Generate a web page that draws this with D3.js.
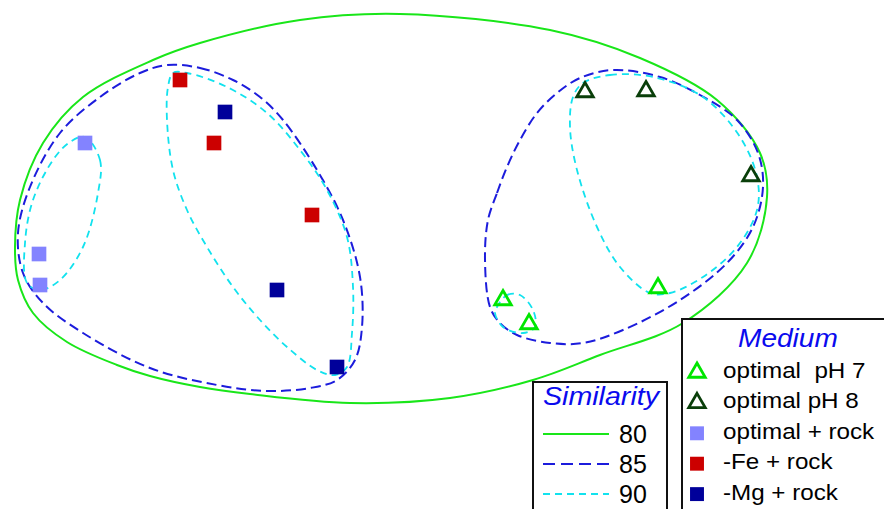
<!DOCTYPE html>
<html>
<head>
<meta charset="utf-8">
<script src="https://cdn.jsdelivr.net/npm/d3@7/dist/d3.min.js"></script>
<style>
  html, body { margin: 0; padding: 0; background: #fff; }
  svg { display: block; }
  text { font-family: "Liberation Sans", Arial, sans-serif; }
</style>
</head>
<body>
<svg id="chart" width="884" height="509"></svg>
<script>
// NMDS ordination scores (axis 1, axis 2) of each sample, grouped by medium
const groups = ["optimal  pH 7", "optimal pH 8", "optimal + rock", "-Fe + rock", "-Mg + rock"];
const optimalPH7 = [[1.09, -0.165], [0.315, -0.225], [0.445, -0.345]];
const optimalPH8 = [[0.725, 0.815], [1.03, 0.82], [1.555, 0.395]];
const optimalRock = [[-1.775, 0.56], [-2.005, 0.005], [-2.0, -0.15]];
const feRock = [[-1.30, 0.875], [-1.13, 0.56], [-0.64, 0.20]];
const mgRock = [[-1.075, 0.715], [-0.815, -0.175], [-0.515, -0.56]];

// Cluster outlines at the given Bray-Curtis similarity levels
const similarityLevels = [80, 85, 90];
const contour80 = [
  [-0.2, 1.205], [0.55, 1.125], [1.0, 0.985], [1.385, 0.775], [1.6, 0.51], [1.635, 0.29],
  [1.535, -0.04], [1.215, -0.34], [0.8, -0.5], [0.465, -0.625], [0.05, -0.715], [-0.45, -0.74],
  [-0.95, -0.695], [-1.2, -0.66], [-1.45, -0.605], [-1.615, -0.55], [-1.865, -0.435],
  [-2.035, -0.29], [-2.11, -0.125], [-2.125, 0.04], [-2.1, 0.275],
  [-1.985, 0.56], [-1.785, 0.79], [-1.435, 0.975], [-1.2, 1.06], [-0.7, 1.175]
];
const contour85a = [
  [-1.365, 0.95], [-1.2, 0.935], [-1.035, 0.875], [-0.9, 0.79], [-0.785, 0.675], [-0.615, 0.425],
  [-0.485, 0.175], [-0.4, -0.11], [-0.39, -0.36], [-0.425, -0.525], [-0.515, -0.625], [-0.65, -0.665],
  [-0.865, -0.68], [-1.115, -0.65], [-1.45, -0.565], [-1.785, -0.39], [-1.985, -0.24], [-2.085, -0.09],
  [-2.11, 0.11], [-2.05, 0.34], [-1.9, 0.61], [-1.7, 0.79], [-1.5, 0.91]
];
const contour85b = [
  [0.24, 0.175], [0.285, 0.31], [0.335, 0.44], [0.4, 0.575], [0.485, 0.71], [0.585, 0.81],
  [0.7, 0.885], [0.865, 0.925], [1.1, 0.89], [1.3, 0.8], [1.485, 0.675], [1.59, 0.51],
  [1.615, 0.34], [1.565, 0.14], [1.435, -0.04], [1.2, -0.225], [0.915, -0.375], [0.715, -0.44],
  [0.55, -0.44], [0.385, -0.4], [0.3, -0.34], [0.25, -0.26], [0.225, -0.02]
];
const contour90a = [
  [-1.775, 0.59], [-1.7, 0.475], [-1.71, 0.31], [-1.785, 0.04], [-1.9, -0.125], [-2.0, -0.175],
  [-2.065, -0.14], [-2.075, 0.06], [-2.035, 0.275], [-1.935, 0.475], [-1.85, 0.565]
];
const contour90b = [
  [-1.36, 0.84], [-1.335, 0.91], [-1.265, 0.91], [-1.065, 0.84], [-0.865, 0.71], [-0.7, 0.525],
  [-0.565, 0.325], [-0.465, 0.09], [-0.435, -0.16], [-0.44, -0.39], [-0.465, -0.56], [-0.525, -0.6],
  [-0.615, -0.575], [-0.765, -0.46], [-0.9, -0.325], [-1.035, -0.16], [-1.165, 0.04], [-1.265, 0.225],
  [-1.335, 0.425], [-1.365, 0.675]
];
const contour90c = [
  [0.285, -0.26], [0.335, -0.2], [0.4, -0.2], [0.465, -0.275], [0.475, -0.36], [0.415, -0.39],
  [0.315, -0.36], [0.275, -0.29]
];
const contour90d = [
  [0.715, 0.86], [0.85, 0.9], [1.065, 0.89], [1.315, 0.79], [1.5, 0.59], [1.585, 0.39],
  [1.585, 0.225], [1.485, 0.04], [1.315, -0.11], [1.15, -0.19], [1.05, -0.19], [0.9, -0.06],
  [0.785, 0.14], [0.685, 0.425], [0.65, 0.64], [0.665, 0.79]
];

const W = 884, H = 509;
const svg = d3.select("#chart");

const x = d3.scaleLinear().domain([-2.2, 2.22]).range([0, W]);
const y = d3.scaleLinear().domain([1.275, -1.27]).range([0, H]);

// Styles for the three similarity levels
const levelStyle = {
  80: { color: "#19e619", dash: null, width: 2, legendDash: null },
  85: { color: "#1c1cdc", dash: "10,5", width: 2, legendDash: "12,6" },
  90: { color: "#12e2ee", dash: "7,5", width: 1.8, legendDash: "7,5" }
};

const outline = d3.line()
  .x(d => x(d[0]))
  .y(d => y(d[1]))
  .curve(d3.curveCatmullRomClosed.alpha(0.5));

const contours = [
  { level: 80, pts: contour80 },
  { level: 85, pts: contour85a },
  { level: 85, pts: contour85b },
  { level: 90, pts: contour90a },
  { level: 90, pts: contour90b },
  { level: 90, pts: contour90c },
  { level: 90, pts: contour90d }
];

svg.append("g").selectAll("path")
  .data(contours)
  .join("path")
  .attr("d", d => outline(d.pts))
  .attr("fill", "none")
  .attr("stroke", d => levelStyle[d.level].color)
  .attr("stroke-width", d => levelStyle[d.level].width)
  .attr("stroke-dasharray", d => levelStyle[d.level].dash);

// Symbol style for each medium
const groupStyle = [
  { shape: "triangle", color: "#00e600" },
  { shape: "triangle", color: "#0a3f0a" },
  { shape: "square", color: "#8383ff" },
  { shape: "square", color: "#cc0000" },
  { shape: "square", color: "#00009a" }
];
const groupPoints = [optimalPH7, optimalPH8, optimalRock, feRock, mgRock];

function drawMarker(sel, style, scale) {
  if (style.shape === "triangle") {
    sel.append("path")
      .attr("d", d3.symbol(d3.symbolTriangle, 118 * scale * scale)())
      .attr("fill", "none")
      .attr("stroke", style.color)
      .attr("stroke-width", 2.8)
      .attr("stroke-linejoin", "miter");
  } else {
    sel.append("path")
      .attr("d", d3.symbol(d3.symbolSquare, 215 * scale * scale)())
      .attr("fill", style.color);
  }
}

const pts = svg.append("g");
groupPoints.forEach((arr, gi) => {
  arr.forEach(p => {
    const g = pts.append("g").attr("transform", `translate(${x(p[0])},${y(p[1])})`);
    drawMarker(g, groupStyle[gi], 1);
  });
});

// Similarity legend
const simBox = svg.append("g");
simBox.append("rect")
  .attr("x", 533).attr("y", 382).attr("width", 134).attr("height", 140)
  .attr("fill", "#fff").attr("stroke", "#111").attr("stroke-width", 2);
simBox.append("text")
  .attr("transform", "translate(543,405) scale(1.1,1)")
  .attr("font-size", 26).attr("font-style", "italic").attr("fill", "#0a0aee")
  .text("Similarity");
similarityLevels.forEach((lv, i) => {
  const cy = 434 + i * 30;
  const st = levelStyle[lv];
  simBox.append("line")
    .attr("x1", 543).attr("x2", 609).attr("y1", cy).attr("y2", cy)
    .attr("stroke", st.color).attr("stroke-width", st.width)
    .attr("stroke-dasharray", st.legendDash);
  simBox.append("text")
    .attr("x", 619).attr("y", cy + 8.5)
    .attr("font-size", 25).attr("fill", "#000")
    .text(lv);
});

// Medium legend
const medBox = svg.append("g");
medBox.append("rect")
  .attr("x", 682).attr("y", 319).attr("width", 220).attr("height", 200)
  .attr("fill", "#fff").attr("stroke", "#111").attr("stroke-width", 2);
medBox.append("text")
  .attr("transform", "translate(738,347) scale(1.08,1)")
  .attr("font-size", 26).attr("font-style", "italic").attr("fill", "#0a0aee")
  .text("Medium");
groups.forEach((name, i) => {
  const base = 378 + i * 30.4;
  const g = medBox.append("g").attr("transform", `translate(697,${base - 5.5})`);
  drawMarker(g, groupStyle[i], groupStyle[i].shape === "square" ? 0.95 : 1.0);
  medBox.append("text")
    .attr("transform", `translate(723,${base}) scale(1.1,1)`)
    .attr("font-size", 22).attr("fill", "#000")
    .style("white-space", "pre")
    .text(name);
});
</script>
</body>
</html>
